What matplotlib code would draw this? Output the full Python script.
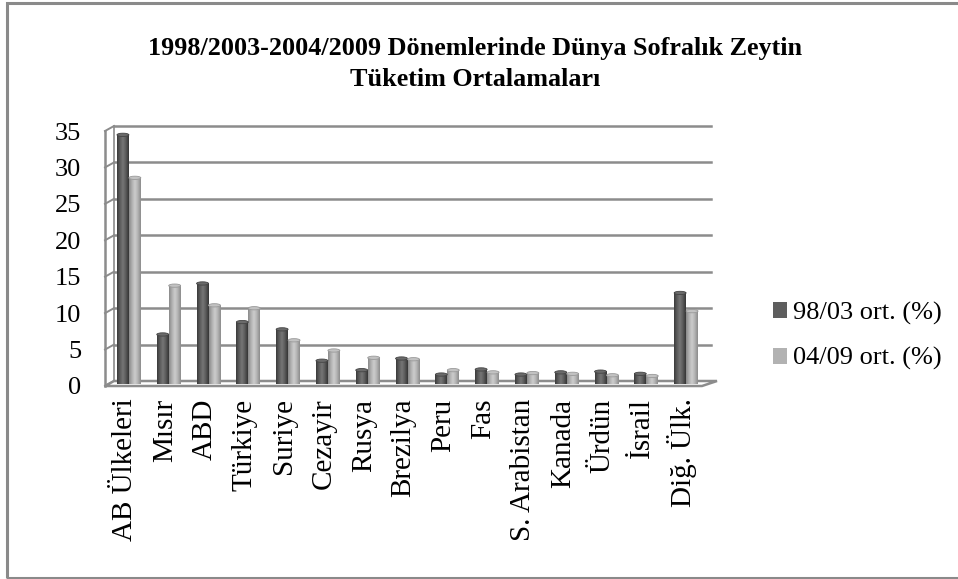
import numpy as np
import matplotlib.pyplot as plt
from matplotlib.colors import LinearSegmentedColormap
from matplotlib.patches import Ellipse, Rectangle, Polygon
from matplotlib.lines import Line2D
import matplotlib.transforms as mtrans

# Consumption shares by country, two periods
countries = ['AB Ülkeleri', 'Mısır', 'ABD', 'Türkiye', 'Suriye', 'Cezayir', 'Rusya',
             'Brezilya', 'Peru', 'Fas', 'S. Arabistan', 'Kanada', 'Ürdün', 'İsrail', 'Diğ. Ülk.']
avg_98_03 = [34.2, 6.8, 13.8, 8.5, 7.5, 3.2, 1.9, 3.5, 1.3, 2.0, 1.3, 1.6, 1.7, 1.4, 12.5]
avg_04_09 = [28.3, 13.5, 10.8, 10.4, 6.0, 4.6, 3.6, 3.4, 1.9, 1.6, 1.5, 1.4, 1.2, 1.1, 10.0]
series_names = ['98/03 ort. (%)', '04/09 ort. (%)']
yticks = [0, 5, 10, 15, 20, 25, 30, 35]

plt.rcParams['font.family'] = ['Liberation Serif', 'DejaVu Serif']

W, H = 958, 579
fig = plt.figure(figsize=(W / 100, H / 100), dpi=100)

# outer chart border
fig.patches.append(Rectangle((7 / W, 1 / H), 1.2, (576 - 1) / H, transform=fig.transFigure,
                             fill=False, edgecolor='#8a8a8a', lw=2.2))

n = len(countries)
x0, x1, ybot, ytop = 105, 702, 386, 131
ax = fig.add_axes([x0 / W, 1 - ybot / H, (x1 - x0) / W, (ybot - ytop) / H])
ax.set_xlim(0, n)
ax.set_ylim(0, 35)
for s in ax.spines.values():
    s.set_visible(False)

dx, dy = 9, 5
back = ax.transData + mtrans.ScaledTranslation(dx / 100, dy / 100, fig.dpi_scale_trans)
mid = ax.transData + mtrans.ScaledTranslation(4 / 100, 2 / 100, fig.dpi_scale_trans)
grid_c = '#8c8c8c'

# back wall gridlines
for y in yticks:
    ax.add_line(Line2D([0, n], [y, y], transform=back, color=grid_c, lw=1.8, zorder=1,
                       clip_on=False))
# left wall: front edge, back edge and depth ticks
ax.add_line(Line2D([0, 0], [0, 35], color=grid_c, lw=1.8, zorder=1, clip_on=False))
ax.add_line(Line2D([0, 0], [0, 35], transform=back, color=grid_c, lw=1.2, zorder=1,
                   clip_on=False))
for y in yticks:
    p_front = ax.transData.transform((0, y))
    p_back = back.transform((0, y))
    ax.add_line(Line2D([p_front[0], p_back[0]], [p_front[1], p_back[1]], transform=None,
                       color=grid_c, lw=1.4, zorder=1, clip_on=False))
# floor
pf0 = ax.transData.transform((0, 0))
pf1 = ax.transData.transform((n, 0))
pb1 = back.transform((n, 0))
pb0 = back.transform((0, 0))
ax.add_patch(Polygon([pf0, pf1, pb1 + [6, 0], pb0], closed=True, transform=None,
                     facecolor='white', edgecolor=grid_c, lw=1.8, zorder=1, clip_on=False))

# cylinder shading across each bar
cmaps = [LinearSegmentedColormap.from_list('d', ['#3a3a3a', '#5c5c5c', '#767676', '#5a5a5a', '#353535']),
         LinearSegmentedColormap.from_list('l', ['#8a8a8a', '#b0b0b0', '#cdcdcd', '#b2b2b2', '#8c8c8c'])]
caps = ['#6a6a6a', '#c2c2c2']
grad = np.linspace(0, 1, 64).reshape(1, -1)
bw = 0.3
xc = np.arange(n) + 0.5
for k, vals in enumerate([avg_98_03, avg_04_09]):
    xs = xc + (k - 0.5) * bw
    bars = ax.bar(xs, vals, width=bw, color='none', transform=mid, zorder=3)
    for b, v in zip(bars, vals):
        bx = b.get_x()
        ax.imshow(grad, cmap=cmaps[k], aspect='auto', extent=[bx, bx + bw, 0, v],
                  transform=mid, zorder=3, interpolation='bilinear', clip_on=False)
        ax.add_patch(Ellipse((bx + bw / 2, v), bw, 0.45, transform=mid,
                             facecolor=caps[k], edgecolor='#444444' if k == 0 else '#9a9a9a',
                             lw=0.6, zorder=4, clip_on=False))
ax.set_xlim(0, n)
ax.set_ylim(0, 35)

ax.set_yticks(yticks)
ax.set_yticklabels([str(t) for t in yticks], fontsize=19)
ax.tick_params(axis='y', length=0, pad=17)
ax.set_xticks(xc)
ax.set_xticklabels(countries, rotation=90, fontsize=21, va='top', ha='center')
ax.tick_params(axis='x', length=0, pad=9)

fig.text(475 / W, 1 - 48 / H, '1998/2003-2004/2009 Dönemlerinde Dünya Sofralık Zeytin',
         ha='center', va='center', fontsize=18.8, fontweight='bold')
fig.text(475 / W, 1 - 79 / H, 'Tüketim Ortalamaları',
         ha='center', va='center', fontsize=18.8, fontweight='bold')

handles = [Rectangle((0, 0), 1, 1, facecolor='#5e5e5e'), Rectangle((0, 0), 1, 1, facecolor='#b2b2b2')]
fig.legend(handles, series_names, loc='center left', bbox_to_anchor=(749 / W, 1 - 336 / H),
           frameon=False, fontsize=19, handlelength=0.55, handleheight=0.55,
           handletextpad=0.2, labelspacing=0.85)

fig.savefig('out.png', dpi=100)
